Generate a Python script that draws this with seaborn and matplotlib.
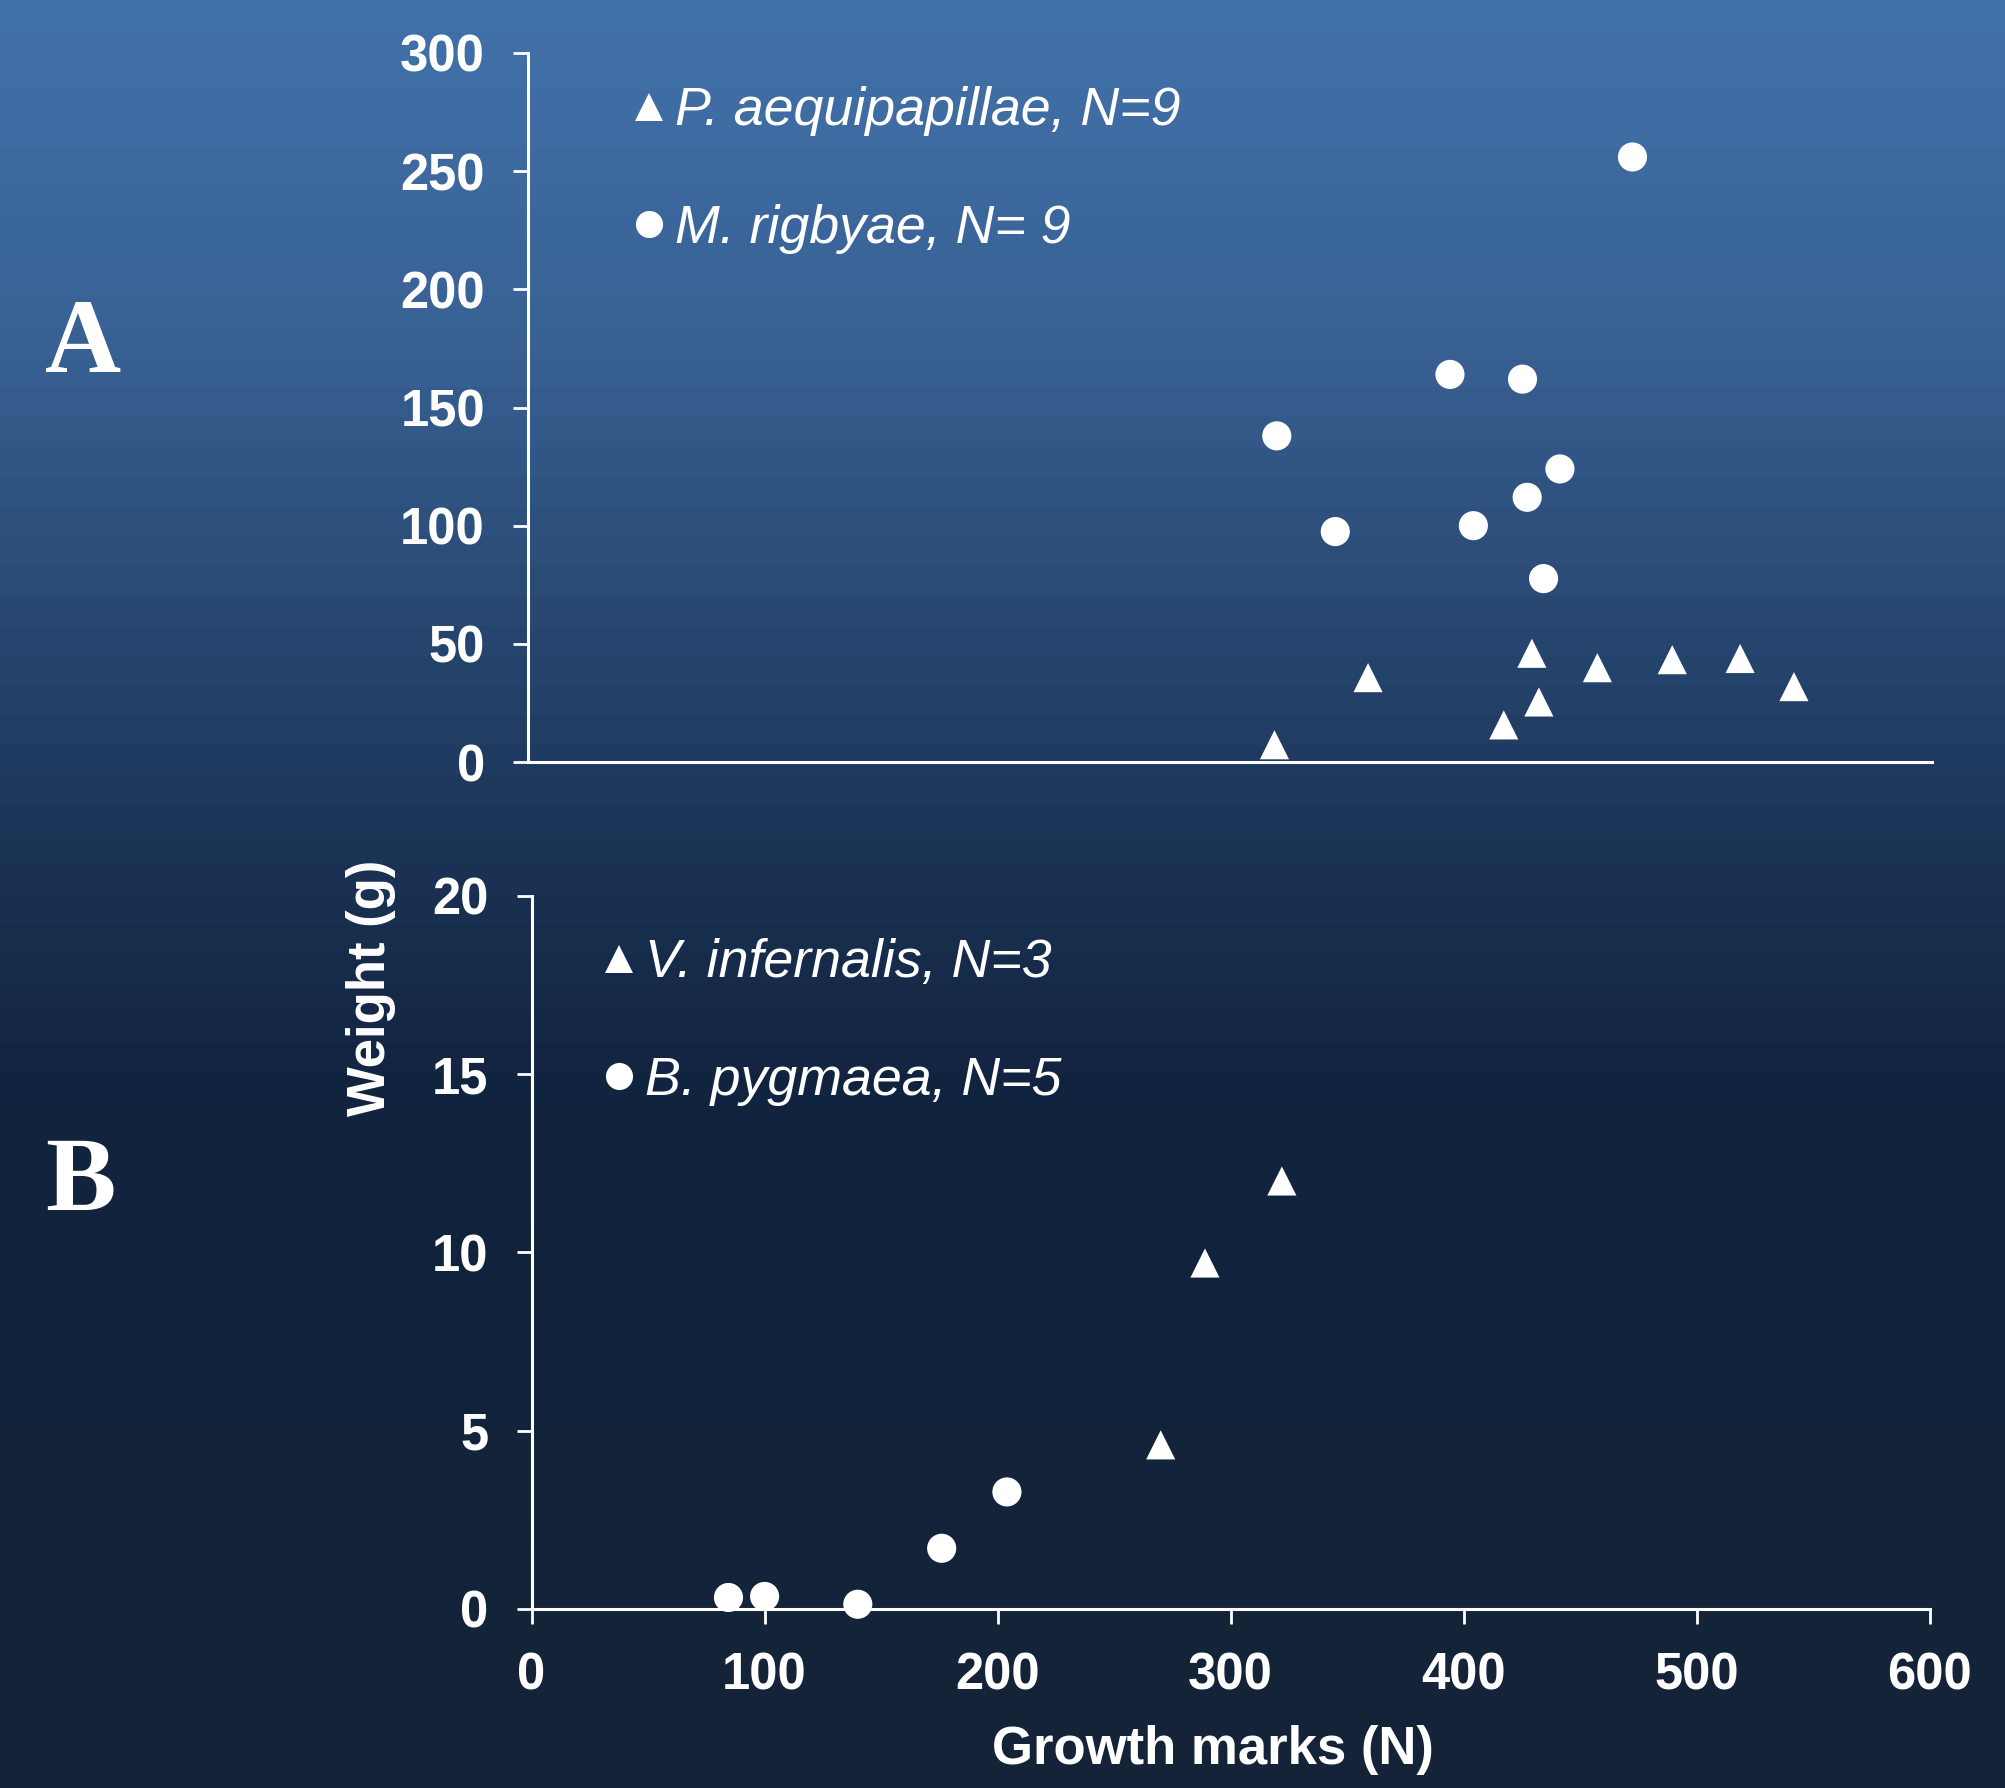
import matplotlib
matplotlib.use("Agg")
import matplotlib.pyplot as plt
from matplotlib.lines import Line2D
import numpy as np
import pandas as pd
import seaborn as sns

# --- data ---
# panel A
a_species = ["P. aequipapillae, N=9", "M. rigbyae, N= 9"]
a_tri_marks = [319, 359, 417, 432, 429, 457, 489, 518, 541]
a_tri_weight = [7.3, 35.7, 15.7, 25.4, 46.0, 39.9, 43.3, 43.8, 31.9]
a_cir_marks = [472, 394, 425, 320, 441, 427, 345, 404, 434]
a_cir_weight = [256, 164, 162, 138, 124, 112, 97.5, 100, 77.6]

# panel B
b_species = ["V. infernalis, N=3", "B. pygmaea, N=5"]
b_tri_marks = [270, 289, 322]
b_tri_weight = [4.6, 9.7, 12.0]
b_cir_marks = [84.5, 100, 140, 176, 204]
b_cir_weight = [0.32, 0.35, 0.13, 1.70, 3.28]

a_yticks = [0, 50, 100, 150, 200, 250, 300]
b_yticks = [0, 5, 10, 15, 20]
xticks = [0, 100, 200, 300, 400, 500, 600]


def make_df(tri_x, tri_y, cir_x, cir_y, species):
    return pd.DataFrame({
        "marks": list(tri_x) + list(cir_x),
        "weight": list(tri_y) + list(cir_y),
        "species": [species[0]] * len(tri_x) + [species[1]] * len(cir_x),
    })


df_a = make_df(a_tri_marks, a_tri_weight, a_cir_marks, a_cir_weight, a_species)
df_b = make_df(b_tri_marks, b_tri_weight, b_cir_marks, b_cir_weight, b_species)

sns.set_theme(style="ticks")
plt.rcParams["font.family"] = ["Liberation Sans", "DejaVu Sans"]

W, H = 2006, 1788
fig = plt.figure(figsize=(W / 100, H / 100), dpi=100)

# stepped blue gradient background
stops = [(0.0, (66, 114, 170)), (0.2, (56, 96, 146)), (0.43, (31, 58, 95)),
         (0.55, (22, 42, 72)), (0.62, (17, 35, 62)), (0.8, (18, 35, 59)),
         (1.0, (21, 36, 55))]
nb = 60
pos = (np.arange(nb) + 0.5) / nb
sp = [s[0] for s in stops]
grad = np.stack([np.interp(pos, sp, [s[1][k] for s in stops]) for k in range(3)], axis=1) / 255
bg = fig.add_axes([0, 0, 1, 1], zorder=-10)
bg.imshow(grad[:, None, :], aspect="auto", extent=[0, 1, 0, 1])
bg.axis("off")

WHITE = "white"


def px_axes(left, top, right, bottom):
    return fig.add_axes([left / W, 1 - bottom / H, (right - left) / W, (bottom - top) / H])


ax_a = px_axes(528, 53, 1932, 762)
ax_b = px_axes(531.6, 895.7, 1929.6, 1608.9)

markers_a = {a_species[0]: "^", a_species[1]: "o"}
markers_b = {b_species[0]: "^", b_species[1]: "o"}

sns.scatterplot(data=df_a, x="marks", y="weight", style="species", markers=markers_a,
                color=WHITE, s=440, linewidth=0, ax=ax_a, legend=False, clip_on=False)
sns.scatterplot(data=df_b, x="marks", y="weight", style="species", markers=markers_b,
                color=WHITE, s=440, linewidth=0, ax=ax_b, legend=False, clip_on=False)

for ax in (ax_a, ax_b):
    ax.set_facecolor("none")
    ax.set_xlim(0, 600)
    ax.set_xlabel("")
    ax.set_ylabel("")
    for side in ("top", "right"):
        ax.spines[side].set_visible(False)
    for side in ("left", "bottom"):
        ax.spines[side].set_color(WHITE)
        ax.spines[side].set_linewidth(2.2)
    ax.tick_params(colors=WHITE, length=11, width=2, direction="out", pad=20,
                   labelsize=36.5)

ax_a.set_ylim(0, 300)
ax_a.set_yticks(a_yticks)
ax_a.set_xticks([])
ax_b.set_ylim(0, 20)
ax_b.set_yticks(b_yticks)
ax_b.set_xticks(xticks)
for ax in (ax_a, ax_b):
    for lab in ax.get_yticklabels() + ax.get_xticklabels():
        lab.set_fontweight("bold")


def add_legend(ax, species, anchor):
    handles = [Line2D([], [], linestyle="none", marker="^", color=WHITE, markersize=19.5,
                      markeredgewidth=0),
               Line2D([], [], linestyle="none", marker="o", color=WHITE, markersize=19.5,
                      markeredgewidth=0)]
    leg = ax.legend(handles, species, loc="center left", bbox_to_anchor=anchor,
                    bbox_transform=fig.transFigure, frameon=False, borderpad=0,
                    handlelength=0.6, handletextpad=0.18, labelspacing=1.25,
                    prop={"size": 38.7, "style": "italic"}, labelcolor=WHITE)
    return leg


add_legend(ax_a, a_species, (606 / W, 1 - 170 / H))
add_legend(ax_b, b_species, (576 / W, 1 - 1022 / H))

fig.text(371 / W, 1 - 988 / H, "Weight (g)", rotation=90, ha="center", va="center",
         color=WHITE, fontsize=38, fontweight="bold")
fig.text(1213 / W, 1 - 1750 / H, "Growth marks (N)", ha="center", va="center",
         color=WHITE, fontsize=38, fontweight="bold")

for letter, (x, y) in {"A": (45, 372), "B": (45, 1210)}.items():
    fig.text(x / W, 1 - y / H, letter, ha="left", va="baseline", color=WHITE,
             fontsize=76, fontweight="bold", family="Liberation Serif")

fig.savefig("out.png", dpi=100)
